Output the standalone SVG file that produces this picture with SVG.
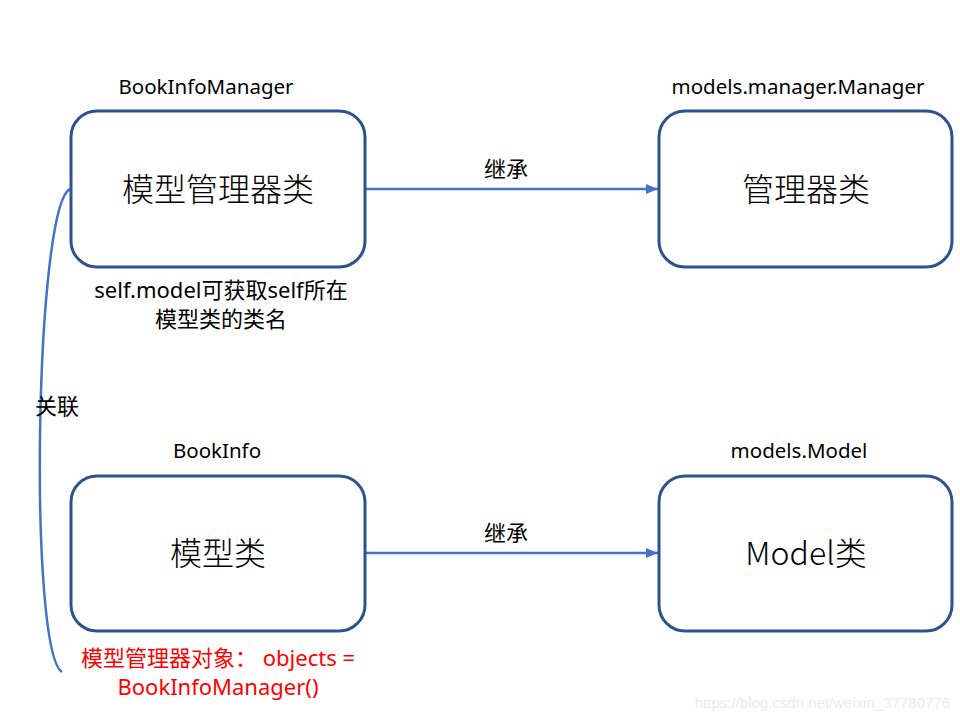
<svg xmlns="http://www.w3.org/2000/svg" width="960" height="720" viewBox="0 0 960 720">
<defs>
<style>
.box{fill:#fff;stroke:#2F528F;stroke-width:3}
.lbl{font-family:"Noto Sans","Noto Sans CJK SC",sans-serif;font-size:20.5px;fill:#000;text-anchor:middle}
.big{font-family:"Noto Sans CJK SC","Noto Sans",sans-serif;font-size:32px;font-weight:300;fill:#000;text-anchor:middle}
.txt{font-family:"Noto Sans","Noto Sans CJK SC",sans-serif;font-size:22px;fill:#000;text-anchor:middle}
.red{fill:#FF0000}
.conn{stroke:#4472C4;stroke-width:2.5;fill:none}
</style>
<marker id="arr" viewBox="0 0 12 10" refX="12" refY="5" markerWidth="12" markerHeight="10" markerUnits="userSpaceOnUse" orient="auto"><path d="M0,0 L12,5 L0,10 z" fill="#4472C4"/></marker>
</defs>
<rect width="960" height="720" fill="#fff"/>
<g id="connectors">
<line class="conn" x1="366" y1="189" x2="658" y2="189" marker-end="url(#arr)"/>
<line class="conn" x1="366" y1="553" x2="658" y2="553" marker-end="url(#arr)"/>
<path class="conn" d="M70,189 C35,205 28,650 62,672" stroke-width="1.6"/>
<text class="txt" x="506" y="177">继承</text>
<text class="txt" x="506" y="541">继承</text>
<text class="txt" x="57" y="414">关联</text>
</g>
<g id="node-bookinfomanager">
<text class="lbl" x="206" y="94">BookInfoManager</text>
<rect class="box" x="71" y="111" width="294" height="156" rx="26"/>
<text class="big" x="218" y="201">模型管理器类</text>
<text class="txt" x="221" y="298">self.model可获取self所在</text>
<text class="txt" x="221" y="327">模型类的类名</text>
</g>
<g id="node-manager">
<text class="lbl" x="798" y="94">models.manager.Manager</text>
<rect class="box" x="659" y="111" width="293" height="156" rx="26"/>
<text class="big" x="806" y="201">管理器类</text>
</g>
<g id="node-bookinfo">
<text class="lbl" x="217" y="458">BookInfo</text>
<rect class="box" x="71" y="476" width="294" height="155" rx="26"/>
<text class="big" x="218" y="565">模型类</text>
<text class="txt red" x="218" y="666">模型管理器对象： objects =</text>
<text class="txt red" x="218" y="695">BookInfoManager()</text>
</g>
<g id="node-model">
<text class="lbl" x="799" y="458">models.Model</text>
<rect class="box" x="659" y="476" width="293" height="155" rx="26"/>
<text class="big" x="806" y="565">Model类</text>
</g>
<text x="950" y="708" style="font-family:'Liberation Sans',sans-serif;font-size:15px;fill:#ebebeb;text-anchor:end">https://blog.csdn.net/weixin_37780776</text>
</svg>
